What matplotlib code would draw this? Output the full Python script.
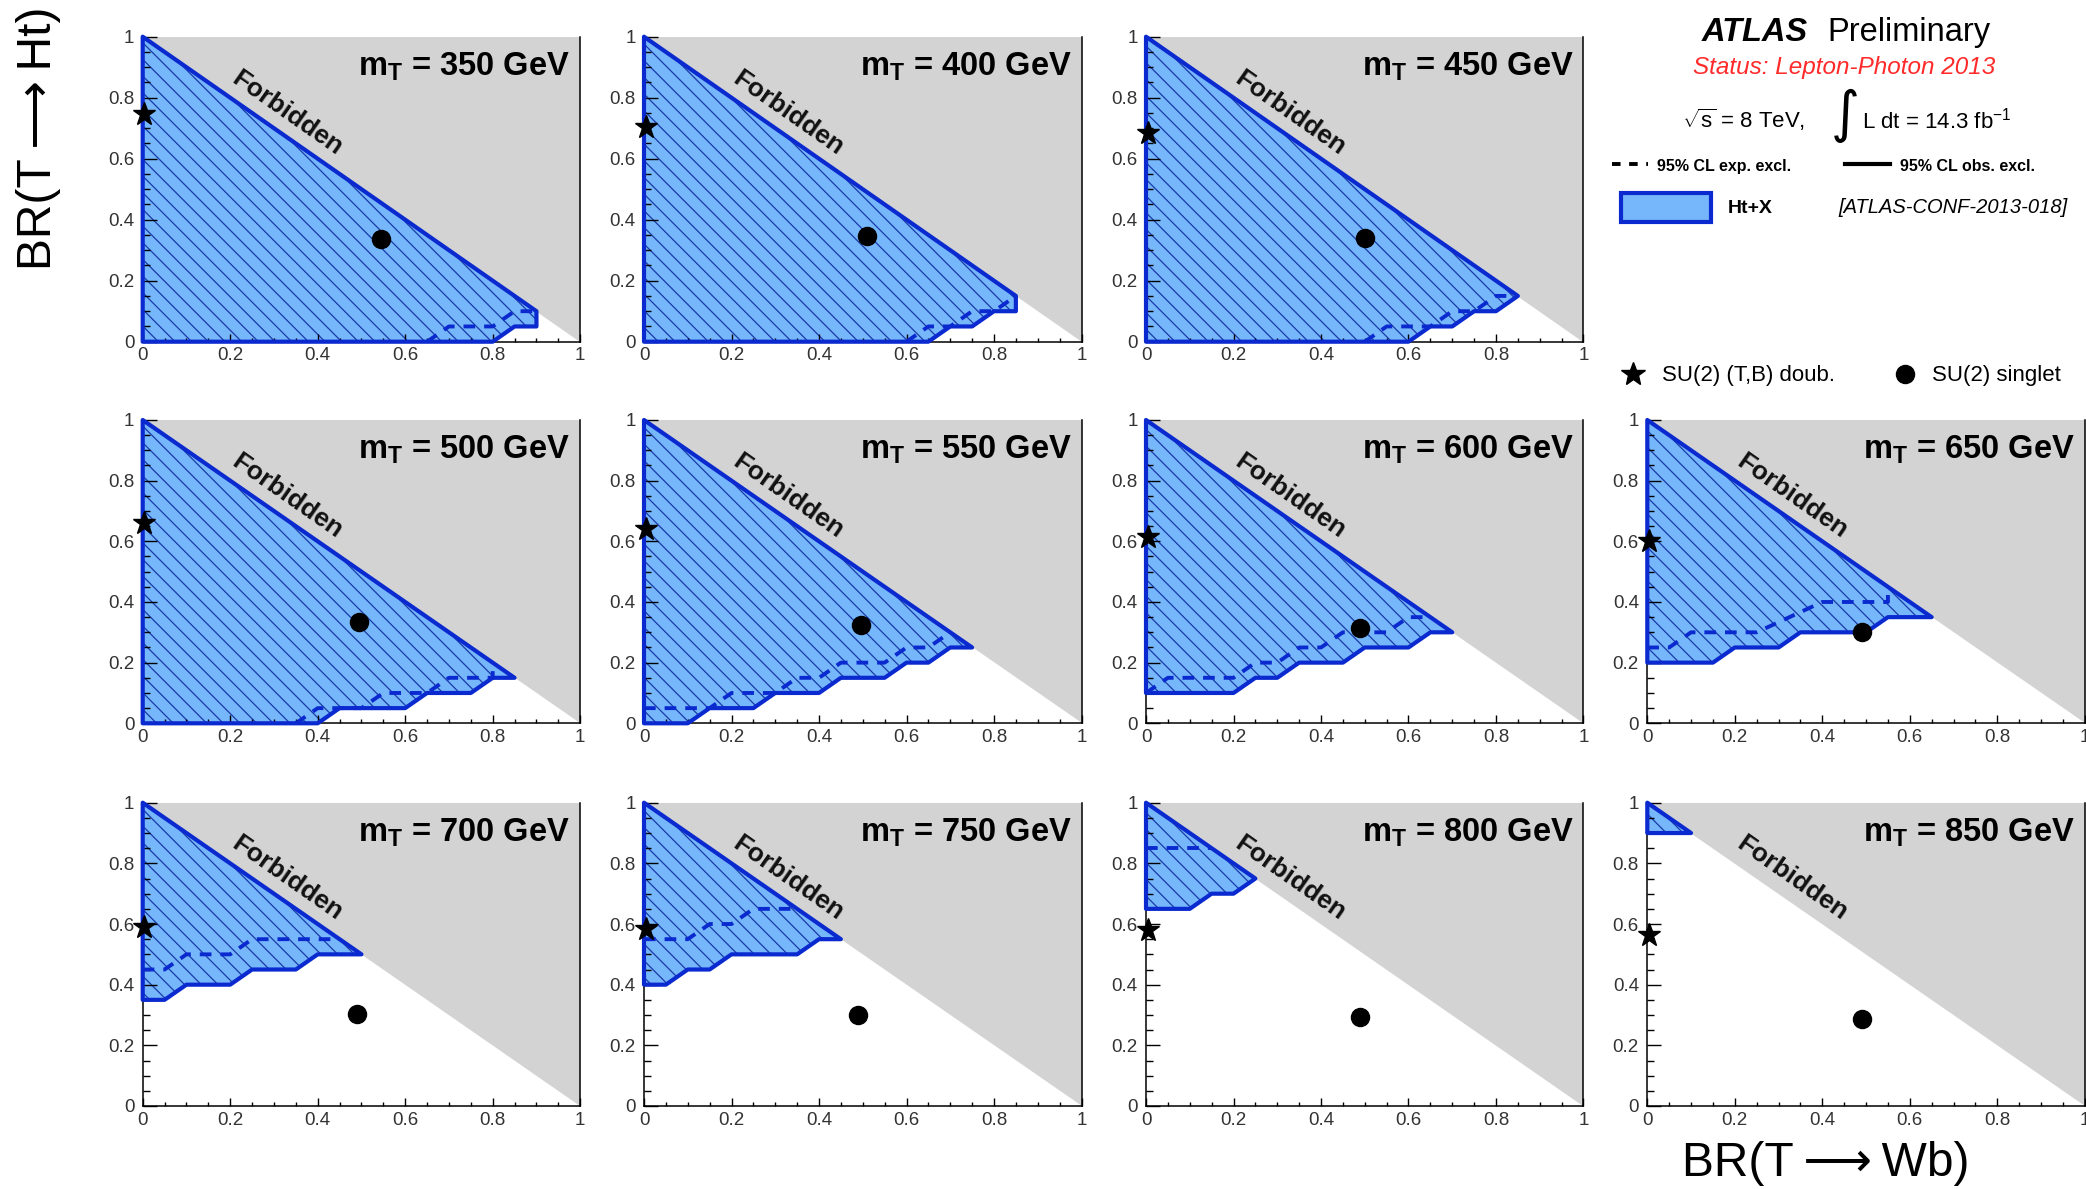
import numpy as np
import matplotlib
matplotlib.use("Agg")
import matplotlib.pyplot as plt
from matplotlib.patches import Polygon, Rectangle
from matplotlib.lines import Line2D

plt.rcParams['font.family'] = ['Liberation Sans', 'DejaVu Sans']
plt.rcParams['mathtext.fontset'] = 'custom'
plt.rcParams['mathtext.rm'] = 'Liberation Sans'
plt.rcParams['mathtext.it'] = 'Liberation Sans:italic'
plt.rcParams['mathtext.bf'] = 'Liberation Sans:bold'
plt.rcParams['mathtext.sf'] = 'Liberation Sans'
plt.rcParams['hatch.linewidth'] = 0.9

# ---------------- data ----------------
masses = [350, 400, 450, 500, 550, 600, 650, 700, 750, 800, 850]

# SU(2) doublet (star) and singlet (circle) points: (BR(Wb), BR(Ht))
doublet_x = [0.004] * 11
doublet_y = [0.745, 0.705, 0.685, 0.66, 0.64, 0.615, 0.60, 0.59, 0.585, 0.58, 0.565]
singlet_x = [0.545, 0.51, 0.50, 0.495, 0.495, 0.49, 0.49, 0.49, 0.49, 0.49, 0.49]
singlet_y = [0.337, 0.346, 0.341, 0.333, 0.325, 0.314, 0.30, 0.304, 0.301, 0.295, 0.287]

# observed exclusion polygons
obs_x_350 = [0, 0, 0.90, 0.90, 0.85, 0.80]
obs_y_350 = [0, 1, 0.10, 0.05, 0.05, 0.0]
obs_x_400 = [0, 0, 0.85, 0.85, 0.80, 0.75, 0.70, 0.65]
obs_y_400 = [0, 1, 0.15, 0.10, 0.10, 0.05, 0.05, 0.0]
obs_x_450 = [0, 0, 0.85, 0.80, 0.75, 0.70, 0.65, 0.60]
obs_y_450 = [0, 1, 0.15, 0.10, 0.10, 0.05, 0.05, 0.0]
obs_x_500 = [0, 0, 0.85, 0.80, 0.75, 0.65, 0.60, 0.45, 0.40]
obs_y_500 = [0, 1, 0.15, 0.15, 0.10, 0.10, 0.05, 0.05, 0.0]
obs_x_550 = [0, 0, 0.75, 0.70, 0.65, 0.60, 0.55, 0.45, 0.40, 0.30, 0.25, 0.15, 0.10]
obs_y_550 = [0, 1, 0.25, 0.25, 0.20, 0.20, 0.15, 0.15, 0.10, 0.10, 0.05, 0.05, 0.0]
obs_x_600 = [0, 0, 0.70, 0.65, 0.60, 0.50, 0.45, 0.35, 0.30, 0.25, 0.20]
obs_y_600 = [0.10, 1, 0.30, 0.30, 0.25, 0.25, 0.20, 0.20, 0.15, 0.15, 0.10]
obs_x_650 = [0, 0, 0.65, 0.55, 0.50, 0.35, 0.30, 0.20, 0.15]
obs_y_650 = [0.20, 1, 0.35, 0.35, 0.30, 0.30, 0.25, 0.25, 0.20]
obs_x_700 = [0, 0, 0.50, 0.40, 0.35, 0.25, 0.20, 0.10, 0.05]
obs_y_700 = [0.35, 1, 0.50, 0.50, 0.45, 0.45, 0.40, 0.40, 0.35]
obs_x_750 = [0, 0, 0.45, 0.40, 0.35, 0.20, 0.15, 0.10, 0.05]
obs_y_750 = [0.40, 1, 0.55, 0.55, 0.50, 0.50, 0.45, 0.45, 0.40]
obs_x_800 = [0, 0, 0.25, 0.20, 0.15, 0.10]
obs_y_800 = [0.65, 1, 0.75, 0.70, 0.70, 0.65]
obs_x_850 = [0, 0, 0.10]
obs_y_850 = [0.90, 1, 0.90]

# expected exclusion lines
exp_x_350 = [0.65, 0.70, 0.80, 0.85, 0.90]
exp_y_350 = [0.0, 0.05, 0.05, 0.10, 0.10]
exp_x_400 = [0.60, 0.65, 0.70, 0.75, 0.80, 0.85]
exp_y_400 = [0.0, 0.05, 0.05, 0.10, 0.10, 0.15]
exp_x_450 = [0.50, 0.55, 0.65, 0.70, 0.75, 0.80, 0.85]
exp_y_450 = [0.0, 0.05, 0.05, 0.10, 0.10, 0.15, 0.15]
exp_x_500 = [0.35, 0.40, 0.50, 0.55, 0.65, 0.70, 0.80, 0.80]
exp_y_500 = [0.0, 0.05, 0.05, 0.10, 0.10, 0.15, 0.15, 0.20]
exp_x_550 = [0, 0.15, 0.20, 0.30, 0.35, 0.40, 0.45, 0.55, 0.60, 0.65, 0.70]
exp_y_550 = [0.05, 0.05, 0.10, 0.10, 0.15, 0.15, 0.20, 0.20, 0.25, 0.25, 0.30]
exp_x_600 = [0, 0.05, 0.20, 0.25, 0.30, 0.35, 0.40, 0.45, 0.55, 0.60, 0.65]
exp_y_600 = [0.10, 0.15, 0.15, 0.20, 0.20, 0.25, 0.25, 0.30, 0.30, 0.35, 0.35]
exp_x_650 = [0.0, 0.05, 0.10, 0.25, 0.40, 0.55, 0.55]
exp_y_650 = [0.25, 0.25, 0.30, 0.30, 0.40, 0.40, 0.45]
exp_x_700 = [0.0, 0.05, 0.10, 0.20, 0.25, 0.45]
exp_y_700 = [0.45, 0.45, 0.50, 0.50, 0.55, 0.55]
exp_x_750 = [0.0, 0.10, 0.15, 0.20, 0.25, 0.35]
exp_y_750 = [0.55, 0.55, 0.60, 0.60, 0.65, 0.65]
exp_x_800 = [0.0, 0.15]
exp_y_800 = [0.85, 0.85]
exp_x_850 = []
exp_y_850 = []

tick_vals = [0, 0.2, 0.4, 0.6, 0.8, 1.0]
tick_labels = ['0', '0.2', '0.4', '0.6', '0.8', '1']

obs_x = [obs_x_350, obs_x_400, obs_x_450, obs_x_500, obs_x_550, obs_x_600,
         obs_x_650, obs_x_700, obs_x_750, obs_x_800, obs_x_850]
obs_y = [obs_y_350, obs_y_400, obs_y_450, obs_y_500, obs_y_550, obs_y_600,
         obs_y_650, obs_y_700, obs_y_750, obs_y_800, obs_y_850]
exp_x = [exp_x_350, exp_x_400, exp_x_450, exp_x_500, exp_x_550, exp_x_600,
         exp_x_650, exp_x_700, exp_x_750, exp_x_800, exp_x_850]
exp_y = [exp_y_350, exp_y_400, exp_y_450, exp_y_500, exp_y_550, exp_y_600,
         exp_y_650, exp_y_700, exp_y_750, exp_y_800, exp_y_850]

# ---------------- style ----------------
W, H = 2086, 1189
FILL = '#76b6fa'
HATCH = '#1a3aa8'
LINE = '#0a2ad0'
GRAY = '#d3d3d3'

fig = plt.figure(figsize=(W / 100, H / 100), dpi=100)

def fpos(x, y):
    return x / W, 1 - y / H

AX_LEFT = [142.7, 644.0, 1146.0, 1647.3]
AX_TOP = [36.7, 420.0, 802.7]
AX_W = 437.5
AX_H = [305.0, 303.3, 303.3]
grid = [(0, 0), (0, 1), (0, 2), (1, 0), (1, 1), (1, 2), (1, 3),
        (2, 0), (2, 1), (2, 2), (2, 3)]

for i, m in enumerate(masses):
    r, c = grid[i]
    l = AX_LEFT[c] / W
    b = 1 - (AX_TOP[r] + AX_H[r]) / H
    ax = fig.add_axes([l, b, AX_W / W, AX_H[r] / H])
    ax.set_xlim(0, 1)
    ax.set_ylim(0, 1)
    ax.add_patch(Polygon([(0, 1), (1, 1), (1, 0)], closed=True,
                         facecolor=GRAY, edgecolor='none', zorder=0))
    pts = list(zip(obs_x[i], obs_y[i]))
    ax.add_patch(Polygon(pts, closed=True, facecolor=FILL, edgecolor=HATCH,
                         linewidth=0, hatch='\\\\', zorder=1))
    ax.add_patch(Polygon(pts, closed=True, fill=False, edgecolor=LINE,
                         linewidth=3.0, joinstyle='round', zorder=3,
                         clip_on=False))
    if len(exp_x[i]) > 0:
        ax.plot(exp_x[i], exp_y[i], color=LINE, lw=2.8, dashes=(3.0, 2.3),
                zorder=4, solid_capstyle='butt', dash_capstyle='butt')
    ax.plot([doublet_x[i]], [doublet_y[i]], marker='*', color='black',
            markersize=17, zorder=6, clip_on=False, linestyle='none')
    ax.plot([singlet_x[i]], [singlet_y[i]], marker='o', color='black',
            markersize=13, zorder=6, clip_on=False, linestyle='none')
    ax.text(0.33, 0.75, 'Forbidden', rotation=-35, rotation_mode='anchor',
            ha='center', va='center', fontsize=19, fontweight='bold',
            color='#111111', zorder=5)
    ax.text(0.977, 0.872, r'$\mathbf{m_{T}}$ = %d GeV' % m, ha='right',
            va='baseline', fontsize=23.5, fontweight='bold', zorder=5)
    ax.set_xticks(tick_vals)
    ax.set_xticklabels(tick_labels)
    ax.set_yticks(tick_vals)
    ax.set_yticklabels(tick_labels)
    ax.set_xticks(np.arange(0, 1.0001, 0.05), minor=True)
    ax.set_yticks(np.arange(0, 1.0001, 0.05), minor=True)
    ax.tick_params(axis='x', which='major', direction='in', length=6,
                   width=1, labelsize=13.5, pad=4, colors='black',
                   labelcolor='#333333')
    ax.tick_params(axis='x', which='minor', direction='in', length=3, width=1)
    ax.tick_params(axis='y', which='major', direction='in', length=10,
                   width=1, labelsize=13.5, pad=6, labelcolor='#333333')
    ax.tick_params(axis='y', which='minor', direction='in', length=5, width=1)
    for s in ['left', 'bottom', 'right']:
        ax.spines[s].set_linewidth(1.1)
        ax.spines[s].set_zorder(2)
    ax.spines['top'].set_visible(False)
    ax.set_axisbelow(False)

# axis titles
x, y = fpos(39, 138)
fig.text(x, y, 'BR(T\u2009\u27f6\u2009Ht)', rotation=90, ha='center',
         va='center', fontsize=34.5)
x, y = fpos(1826, 1164)
fig.text(x, y, 'BR(T\u2009\u27f6\u2009Wb)', ha='center', va='center',
         fontsize=34.5)

# ATLAS label block
x, y = fpos(1702, 41)
fig.text(x, y, 'ATLAS', fontsize=23.5, fontweight='bold', fontstyle='italic',
         va='baseline')
x, y = fpos(1827, 41)
fig.text(x, y, 'Preliminary', fontsize=23.5, va='baseline')
x, y = fpos(1844, 74)
fig.text(x, y, 'Status: Lepton-Photon 2013', fontsize=17.5, fontstyle='italic',
         color='#ff2a2a', ha='center', va='baseline')
x, y = fpos(1682, 128)
fig.text(x, y, r'$\sqrt{\mathrm{s}}$ = 8 TeV,', fontsize=16, va='baseline')
x, y = fpos(1845, 116)
fig.text(x, y, '\u222b', fontsize=40, ha='center', va='center',
         family='DejaVu Sans')
x, y = fpos(1862, 128)
fig.text(x, y, r'L dt = 14.3 fb$^{-1}$', fontsize=16, va='baseline')

# legend entries
x0, y0 = fpos(1612, 164)
x1, _ = fpos(1648, 164)
fig.add_artist(Line2D([x0, x1], [y0, y0], transform=fig.transFigure,
                      color='black', lw=2.8, dashes=(2.2, 2.2)))
x, y = fpos(1657, 171)
fig.text(x, y, '95% CL exp. excl.', fontsize=11.5, fontweight='bold',
         va='baseline')
x0, y0 = fpos(1845, 164)
x1, _ = fpos(1890, 164)
fig.add_artist(Line2D([x0, x1], [y0, y0], transform=fig.transFigure,
                      color='black', lw=3))
x, y = fpos(1900, 171)
fig.text(x, y, '95% CL obs. excl.', fontsize=11.5, fontweight='bold',
         va='baseline')
bx, by = fpos(1621, 222)
fig.add_artist(Rectangle((bx, by), 90 / W, 29 / H, transform=fig.transFigure,
                         facecolor=FILL, edgecolor=LINE, linewidth=3))
x, y = fpos(1728, 213)
fig.text(x, y, 'Ht+X', fontsize=14, fontweight='bold', va='baseline')
x, y = fpos(1838, 213)
fig.text(x, y, '[ATLAS-CONF-2013-018]', fontsize=14.5, fontstyle='italic',
         va='baseline')

x, y = fpos(1633, 374)
fig.add_artist(Line2D([x], [y], transform=fig.transFigure, marker='*',
                      color='black', markersize=18, linestyle='none'))
x, y = fpos(1662, 381)
fig.text(x, y, 'SU(2) (T,B) doub.', fontsize=16, va='baseline')
x, y = fpos(1905, 374)
fig.add_artist(Line2D([x], [y], transform=fig.transFigure, marker='o',
                      color='black', markersize=13, linestyle='none'))
x, y = fpos(1932, 381)
fig.text(x, y, 'SU(2) singlet', fontsize=16, va='baseline')

fig.savefig('out.png', dpi=100)
